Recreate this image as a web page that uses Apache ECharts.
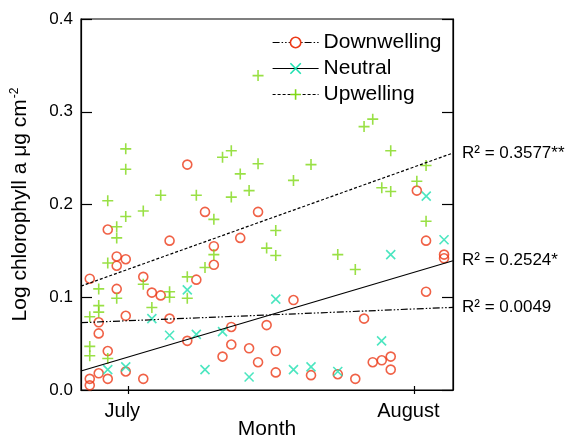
<!DOCTYPE html>
<html>
<head>
<meta charset="utf-8">
<script src="https://cdn.jsdelivr.net/npm/echarts@6/dist/echarts.min.js"></script>
<style>
  html, body { margin: 0; padding: 0; background: #fff; }
  #chart { width: 583px; height: 439px; }
</style>
</head>
<body>
<div id="chart"></div>
<script>
// days counted from 1 July (0 = July, 31 = August)
var monthTicks = [0, 31];
var monthNames = ['July', 'August'];

var downDays = [-4.18, -4.18, -4.18, -3.21, -3.21, -3.21, -2.23, -2.23, -2.23, -1.26, -1.26, -1.26,
    -0.28, -0.28, -0.28, 1.62, 1.62, 2.55, 3.51, 4.47, 4.47, 6.39, 6.39, 7.37, 8.31, 9.27, 9.27,
    10.21, 11.16, 11.16, 12.13, 13.09, 14.06, 14.06, 14.99, 15.98, 15.98, 17.9, 19.8, 22.7, 24.6,
    25.55, 26.49, 27.47, 28.44, 28.44, 31.27, 32.27, 32.27, 34.22, 34.22];
var downValues = [0.120, 0.012, 0.005, 0.073, 0.061, 0.018, 0.173, 0.042, 0.012, 0.144, 0.134, 0.109,
    0.141, 0.080, 0.020, 0.122, 0.012, 0.105, 0.102, 0.161, 0.077, 0.243, 0.053, 0.119, 0.192, 0.155, 0.135,
    0.036, 0.068, 0.049, 0.164, 0.045, 0.192, 0.030, 0.070, 0.042, 0.019, 0.097, 0.016, 0.017, 0.012,
    0.077, 0.030, 0.032, 0.036, 0.022, 0.215, 0.161, 0.106, 0.146, 0.142];

var neutralDays = [-2.23, -0.28, 2.55, 4.47, 6.39, 7.37, 8.31, 10.21, 13.09, 15.98, 17.9, 19.8,
    22.7, 27.45, 28.44, 32.29, 34.22];
var neutralValues = [0.022, 0.025, 0.077, 0.059, 0.108, 0.060, 0.022, 0.063, 0.014, 0.098, 0.022, 0.025,
    0.020, 0.053, 0.146, 0.209, 0.162];

var upDays = [-4.18, -4.18, -4.18, -3.21, -3.21, -3.21, -2.23, -2.23, -2.23, -1.26, -1.26, -1.26,
    -0.28, -0.28, -0.28, 1.62, 1.62, 2.55, 3.51, 4.47, 4.47, 6.39, 6.39, 7.37, 8.31, 9.27, 9.27,
    10.21, 11.16, 11.16, 12.13, 13.09, 14.06, 14.06, 14.99, 15.98, 15.98, 17.9, 19.8, 22.7, 24.6,
    25.55, 26.49, 27.47, 28.44, 28.44, 31.27, 32.27, 32.27];
var upValues = [0.079, 0.047, 0.037, 0.109, 0.091, 0.084, 0.204, 0.137, 0.034, 0.176, 0.164, 0.099,
    0.260, 0.238, 0.187, 0.193, 0.114, 0.089, 0.210, 0.106, 0.100, 0.122, 0.099, 0.210, 0.132, 0.184, 0.146,
    0.251, 0.258, 0.208, 0.233, 0.215, 0.339, 0.244, 0.153, 0.172, 0.145, 0.226, 0.243, 0.146, 0.130,
    0.284, 0.292, 0.218, 0.258, 0.214, 0.225, 0.242, 0.182];

// fitted lines, value at left and right edge of the plot
var trendDays = [-5.13, 35.19];
var downTrend = [0.0726, 0.0891];
var neutralTrend = [0.0205, 0.1394];
var upTrend = [0.112, 0.2555];
var r2Text = ['R² = 0.0049', 'R² = 0.2524*', 'R² = 0.3577**'];

var RED = '#ec3a18', CYAN = '#1fe0b0', GREEN = '#80d816';
var FONT = 'Liberation Sans';
var PLUS = 'path://M0,5L10,5M5,0L5,10';
var CROSS = 'path://M0,0L10,10M0,10L10,0';
var DASHDOT = [7, 2, 1.5, 2, 1.5, 2];

function pairs(xs, ys) {
    var out = [];
    for (var i = 0; i < xs.length; i++) out.push([xs[i], ys[i]]);
    return out;
}

function trendSeries(name, ys, lineType, symbol, color, label) {
    return {
        name: name,
        type: 'line',
        data: pairs(trendDays, ys),
        symbol: symbol,
        showSymbol: false,
        silent: true,
        itemStyle: { color: color },
        lineStyle: { color: '#000', width: 1.2, type: lineType },
        endLabel: {
            show: true,
            formatter: label,
            distance: 9,
            color: '#000',
            fontFamily: FONT,
            fontSize: 17
        }
    };
}

function pointSeries(name, xs, ys, symbol, size, color) {
    return {
        name: name,
        type: 'scatter',
        data: pairs(xs, ys),
        symbol: symbol,
        symbolSize: size,
        itemStyle: { color: 'transparent', borderColor: color, borderWidth: 1.6 },
        emphasis: { disabled: true }
    };
}

var chart = echarts.init(document.getElementById('chart'));

var option = {
    animation: false,
    backgroundColor: '#fff',
    grid: {
        left: 81, right: 130, top: 19, bottom: 49,
        outerBoundsMode: 'none',
        show: true, borderColor: '#000', borderWidth: 1.2
    },
    legend: {
        orient: 'vertical',
        left: 272, top: 32,
        padding: 0,
        itemWidth: 46, itemHeight: 13, itemGap: 5,
        selectedMode: false,
        textStyle: { fontFamily: FONT, fontSize: 21, color: '#000', lineHeight: 21 },
        data: [
            { name: 'Downwelling', itemStyle: { color: '#fff', borderColor: RED, borderWidth: 1.6 },
              lineStyle: { color: '#000', width: 1.2, type: DASHDOT } },
            { name: 'Neutral', itemStyle: { color: '#fff', borderColor: CYAN, borderWidth: 1.6 },
              lineStyle: { color: '#000', width: 1.2, type: 'solid' } },
            { name: 'Upwelling', itemStyle: { color: '#fff', borderColor: GREEN, borderWidth: 1.6 },
              lineStyle: { color: '#000', width: 1.2, type: [3, 2] } }
        ]
    },
    xAxis: [{
        type: 'value',
        position: 'bottom',
        min: trendDays[0], max: trendDays[1],
        splitLine: { show: false },
        axisLine: { onZero: false, lineStyle: { color: '#000', width: 1.2 } },
        axisTick: { inside: true, length: 4, customValues: monthTicks, lineStyle: { color: '#000', width: 1.2 } },
        axisLabel: {
            customValues: monthTicks,
            formatter: function (v) { return monthNames[monthTicks.indexOf(Math.round(v))]; },
            fontFamily: FONT, fontSize: 20, color: '#000', margin: 11,
            padding: [0, 12, 0, 0]
        },
        name: 'Month',
        nameLocation: 'middle',
        nameGap: 29,
        nameMoveOverlap: false,
        nameTextStyle: { fontFamily: FONT, fontSize: 21, color: '#000' }
    }, {
        type: 'value',
        position: 'top',
        offset: -371,
        min: trendDays[0], max: trendDays[1],
        splitLine: { show: false },
        axisLine: { show: false, onZero: false },
        axisTick: { inside: true, length: 4, customValues: monthTicks, lineStyle: { color: '#000', width: 1.2 } },
        axisLabel: { show: false }
    }],
    yAxis: [{
        type: 'value',
        position: 'left',
        min: 0, max: 0.4, interval: 0.1,
        splitLine: { show: false },
        axisLine: { show: true, onZero: false, lineStyle: { color: '#000', width: 1.2 } },
        axisTick: { show: true, inside: true, length: 11, lineStyle: { color: '#000', width: 1.2 } },
        axisLabel: {
            formatter: function (v) { return v.toFixed(1); },
            fontFamily: FONT, fontSize: 17, color: '#000', margin: 8
        },
        name: '{a|Log chlorophyll a μg cm}{s|-2}',
        nameLocation: 'middle',
        nameGap: 49,
        nameMoveOverlap: false,
        nameTextStyle: {
            rich: {
                a: { fontFamily: FONT, fontSize: 21, color: '#000' },
                s: { fontFamily: FONT, fontSize: 12, color: '#000', padding: [0, 0, 11, 1] }
            }
        }
    }, {
        type: 'value',
        position: 'right',
        min: 0, max: 0.4, interval: 0.1,
        splitLine: { show: false },
        axisLine: { show: true, onZero: false, lineStyle: { color: '#000', width: 1.2 } },
        axisTick: { show: true, inside: true, length: 11, lineStyle: { color: '#000', width: 1.2 } },
        axisLabel: { show: false }
    }],
    series: [
        trendSeries('Downwelling', downTrend, DASHDOT, 'circle', RED, r2Text[0]),
        trendSeries('Neutral', neutralTrend, 'solid', CROSS, CYAN, r2Text[1]),
        trendSeries('Upwelling', upTrend, [3, 2], PLUS, GREEN, r2Text[2]),
        pointSeries('Downwelling', downDays, downValues, 'circle', 9, RED),
        pointSeries('Neutral', neutralDays, neutralValues, CROSS, 9, CYAN),
        pointSeries('Upwelling', upDays, upValues, PLUS, 11, GREEN)
    ]
};

chart.setOption(option);
</script>
</body>
</html>
